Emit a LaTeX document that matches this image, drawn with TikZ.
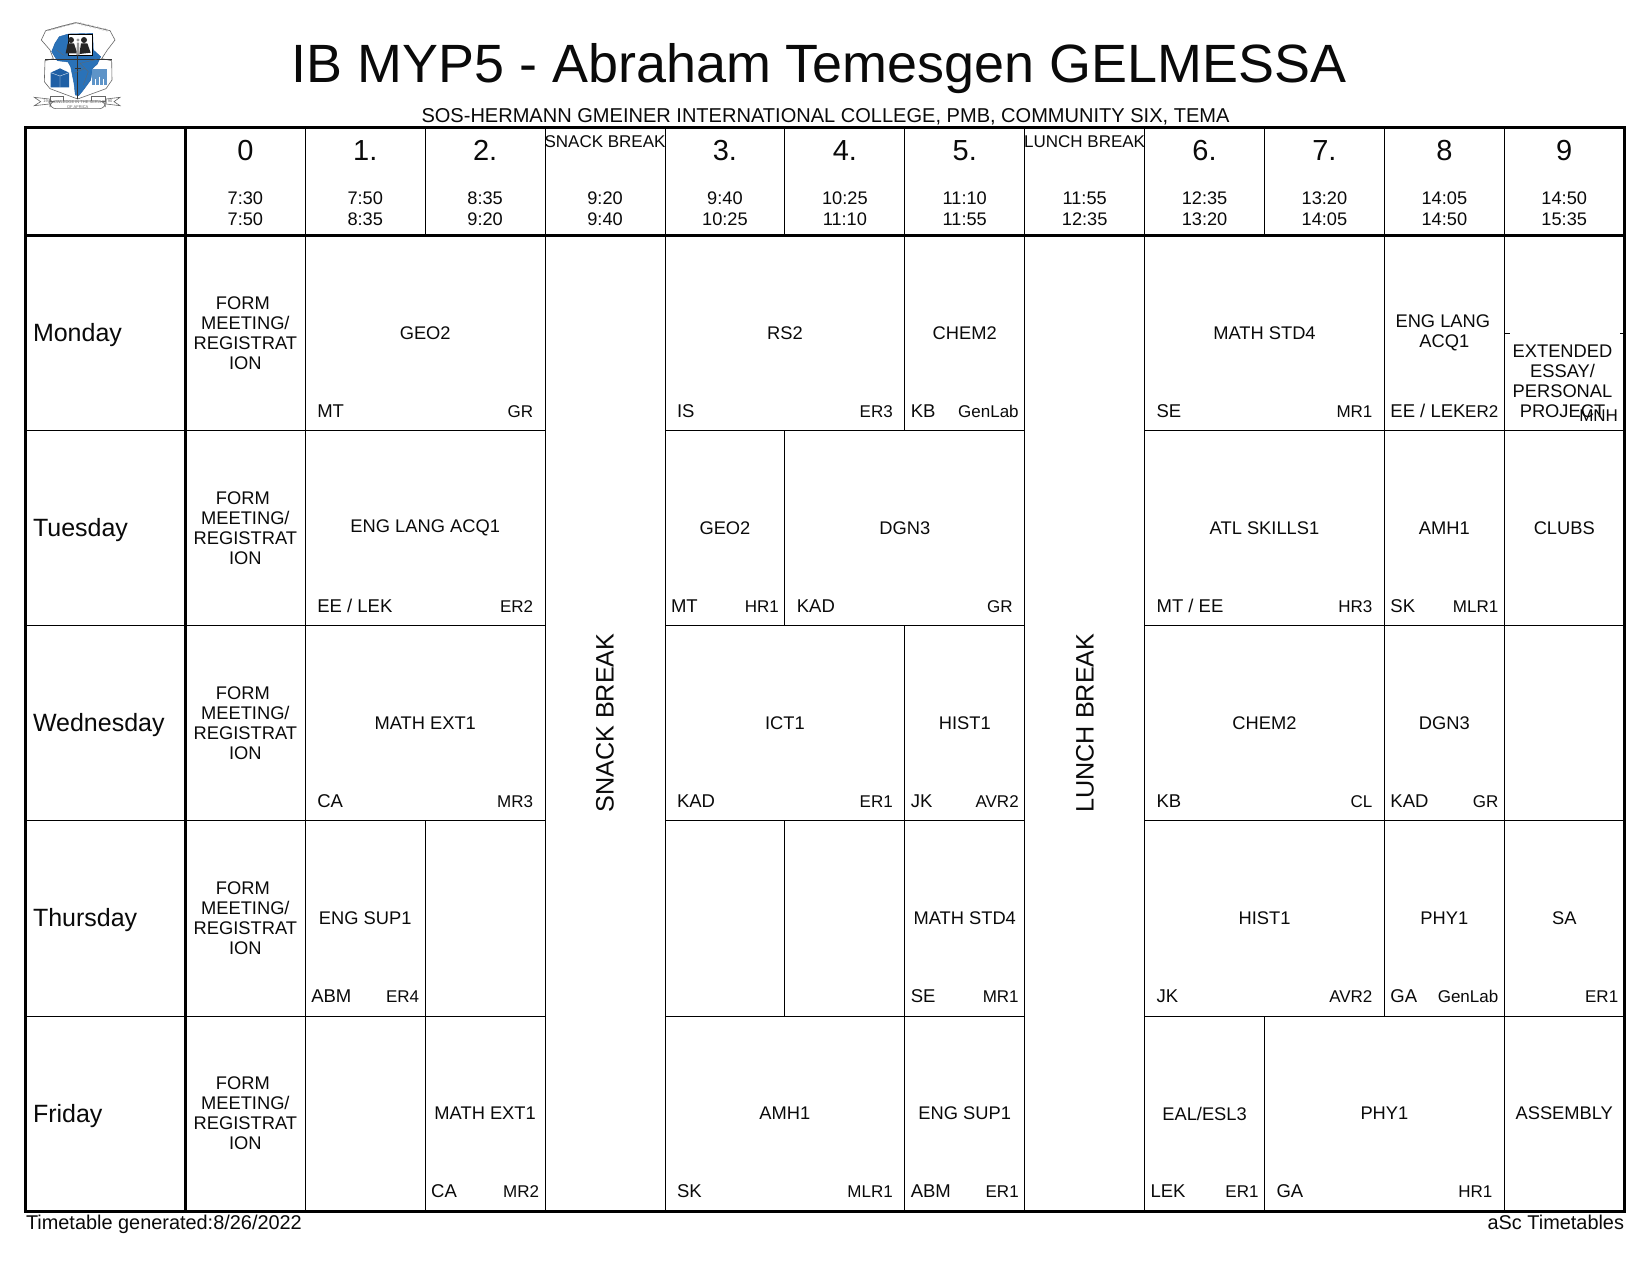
\documentclass[tikz,border=0pt]{standalone}
\usepackage{fontspec}
\setmainfont{Liberation Sans}
\usetikzlibrary{decorations.text}
\definecolor{inkline}{HTML}{000000}
\definecolor{textgrey}{HTML}{0A0A0A}
\definecolor{logoblue}{HTML}{2A72B8}
\definecolor{logolight}{HTML}{5E94C8}
\definecolor{logodark}{HTML}{1F5FA5}
\definecolor{logogrey}{HTML}{666666}
\tikzset{
  gridthin/.style={draw=inkline,line width=0.5pt},
  gridthick/.style={draw=inkline,line width=1.5pt},
  basetext/.style={inner sep=0pt,outer sep=0pt,text=textgrey},
  subjecttext/.style={basetext,align=center,font=\fontsize{9.15}{10}\selectfont},
  teachertext/.style={basetext,anchor=base west,font=\fontsize{9.25}{10}\selectfont},
  roomtext/.style={basetext,anchor=base east,font=\fontsize{8.5}{10}\selectfont},
  periodtext/.style={basetext,anchor=base,font=\fontsize{14.5}{16}\selectfont},
  timetext/.style={basetext,anchor=base,font=\fontsize{9.1}{10}\selectfont},
  breakhead/.style={basetext,anchor=base,font=\fontsize{8.5}{10}\selectfont},
  daytext/.style={basetext,anchor=base west,font=\fontsize{12.5}{14}\selectfont},
  breaktext/.style={basetext,rotate=90,font=\fontsize{12.6}{14}\selectfont},
  foottext/.style={basetext,font=\fontsize{9.95}{11}\selectfont},
  logoline/.style={draw=logogrey,line width=0.3pt},
  logotiny/.style={inner sep=0pt,text=logogrey,align=center,font=\fontsize{2}{2.4}\selectfont},
}
% name, first column, last column, row, subject, teacher, room
\newcommand{\slotcell}[7]{%
  \pgfmathsetmacro\xa{185.4+119.9*#2}%
  \pgfmathsetmacro\xb{185.4+119.9*(#3+1)}%
  \pgfmathsetmacro\ya{235.6+195.1*#4}%
  \pgfmathsetmacro\yb{235.6+195.1*(#4+1)}%
  \pgfmathsetmacro\xc{(\xa+\xb)/2}%
  \pgfmathsetmacro\yc{(\ya+\yb)/2}%
  \pgfmathsetmacro\off{#3>#2 ? 12 : 6}%
  \path[gridthin] (\xa,\ya) rectangle (\xb,\yb);
  \if\relax\detokenize{#5}\relax\else
    \node[subjecttext] (#1) at (\xc,\yc) {#5};
  \fi
  \if\relax\detokenize{#6}\relax\else
    \node[teachertext] (#1t) at (\xa+\off,\yb-13.5) {#6};
  \fi
  \if\relax\detokenize{#7}\relax\else
    \node[roomtext] (#1r) at (\xb-\off,\yb-13.5) {#7};
  \fi
}
% name, column, number, from, to
\newcommand{\headcell}[5]{%
  \pgfmathsetmacro\xa{185.4+119.9*#2}%
  \pgfmathsetmacro\xc{\xa+59.95}%
  \path[gridthin] (\xa,127.5) -- (\xa,235.6);
  \node[periodtext] (#1n) at (\xc,160) {#3};
  \node[timetext] (#1a) at (\xc,204) {#4};
  \node[timetext] (#1b) at (\xc,225) {#5};
}
\newcommand{\breakhd}[5]{%
  \pgfmathsetmacro\xa{185.4+119.9*#2}%
  \pgfmathsetmacro\xc{\xa+59.95}%
  \path[gridthin] (\xa,127.5) -- (\xa,235.6);
  \node[breakhead] (#1n) at (\xc,147) {#3};
  \node[timetext] (#1a) at (\xc,204) {#4};
  \node[timetext] (#1b) at (\xc,225) {#5};
}
\newcommand{\formtext}{FORM\kern2.5pt\\MEETING/\\REGISTRAT\\ION}
\begin{document}
\begin{tikzpicture}[x=0.5pt,y=-0.5pt]
\path[use as bounding box,fill=white] (0,0) rectangle (1651,1275);

% crest
\begin{scope}[x=0.16667pt,y=-0.16667pt]
  \path[logoline,fill=white] (228,68) -- (280,80) -- (330,92) -- (345,120) -- (322,150) -- (305,176) -- (335,182) -- (336,240) -- (318,266) -- (233,297) -- (150,266) -- (133,245) -- (135,182) -- (160,176) -- (150,150) -- (124,120) -- (137,92) -- (180,80) -- cycle;
  \path[fill=logoblue,draw=logodark,line width=0.2pt] (155,155) -- (165,130) -- (178,110) -- (205,102) -- (278,100) -- (280,150) -- (302,170) -- (292,192) -- (278,205) -- (272,240) -- (250,270) -- (236,287) -- (226,285) -- (222,250) -- (212,200) -- (204,186) -- (172,182) -- cycle;
  \path[fill=white,draw=black,line width=0.2pt] (206,104) rectangle (278,165);
  \path[fill=black!85] (213,120) circle (9) (197,160) -- (203,130) -- (222,130) -- (232,160) -- cycle;
  \path[fill=black!85] (252,120) circle (9) (238,162) -- (243,130) -- (262,130) -- (272,158) -- cycle;
  \path[fill=black!40] (234,120) circle (5) (229,165) -- (231,128) -- (237,128) -- (239,165) -- cycle;
  \path[draw=black!80,line width=0.3pt] (135,178) -- (335,178) (233,165) -- (233,297) (225,205) -- (242,205);
  \path[draw=black!60,line width=0.15pt] (170,150) -- (190,165) -- (205,165) (240,190) -- (265,215) -- (250,255) (222,220) -- (255,205) (290,178) -- (240,190);
  \path[fill=logodark] (152,218) -- (180,205) -- (207,218) -- (207,262) -- (152,262) -- cycle;
  \path[draw=white,line width=0.15pt] (152,218) -- (180,228) -- (207,218) (180,228) -- (180,262);
  \path[fill=logolight] (275,208) rectangle (322,256);
  \path[draw=white,line width=0.2pt] (298,230) -- (298,256) (285,238) -- (285,256) (310,238) -- (310,256);
  \path[logoline,fill=white] (103,292) -- (148,297) -- (148,312) -- (103,317) -- (122,305) -- cycle;
  \path[logoline,fill=white] (360,292) -- (318,297) -- (318,312) -- (360,317) -- (342,305) -- cycle;
  \path[logoline,fill=white] (150,290) rectangle (190,303) (275,290) rectangle (316,303);
  \path[logoline,fill=white,rounded corners=3pt] (150,303) rectangle (316,326);
  \node[logotiny] (crestmotto) at (233,315) {KNOWLEDGE IN THE SERVICE\\OF AFRICA};
  \node[logotiny] (crestyeara) at (137,304) {19};
  \node[logotiny] (crestyearb) at (330,304) {90};
  \path[postaction={decorate},decoration={text along path,text align=center,text={|\fontsize{1.2}{1.4}\selectfont\color{logogrey}|SOS-HERMANN GMEINER INTERNATIONAL COLLEGE}}] (135,97) -- (228,72) -- (332,97);
\end{scope}

% titles
\node[basetext,font=\fontsize{26.95}{30}\selectfont] (title) at (819,68.5) {IB MYP5 - Abraham Temesgen GELMESSA};
\node[basetext,anchor=base,font=\fontsize{10.02}{12}\selectfont] (subtitle) at (825.5,122) {SOS-HERMANN GMEINER INTERNATIONAL COLLEGE, PMB, COMMUNITY SIX, TEMA};

% header
\headcell{h0}{0}{0}{7:30}{7:50}
\headcell{h1}{1}{1.}{7:50}{8:35}
\headcell{h2}{2}{2.}{8:35}{9:20}
\breakhd{h3}{3}{SNACK BREAK}{9:20}{9:40}
\headcell{h4}{4}{3.}{9:40}{10:25}
\headcell{h5}{5}{4.}{10:25}{11:10}
\headcell{h6}{6}{5.}{11:10}{11:55}
\breakhd{h7}{7}{LUNCH BREAK}{11:55}{12:35}
\headcell{h8}{8}{6.}{12:35}{13:20}
\headcell{h9}{9}{7.}{13:20}{14:05}
\headcell{h10}{10}{8}{14:05}{14:50}
\headcell{h11}{11}{9}{14:50}{15:35}

% Monday
\slotcell{ma}{0}{0}{0}{\formtext}{}{}
\slotcell{mb}{1}{2}{0}{GEO2}{MT}{GR}
\slotcell{mc}{4}{5}{0}{RS2}{IS}{ER3}
\slotcell{md}{6}{6}{0}{CHEM2}{KB}{GenLab}
\slotcell{me}{8}{9}{0}{MATH STD4}{SE}{MR1}
\slotcell{mf}{10}{10}{0}{ENG LANG\kern1.5pt\\ACQ1}{EE / LEK}{ER2}
\slotcell{mg}{11}{11}{0}{}{}{}
\coordinate (mgl) at (1504.3,333);
\coordinate (mgr) at (1624,333);
\draw[gridthin] (mgl) -- ++(6,0);
\draw[gridthin] (mgr) -- ++(-4,0);
\node[subjecttext] (mgs) at (1562.5,381.5) {EXTENDED\\ESSAY/\\PERSONAL\\PROJECT};
\node[roomtext] (mgm) at (1618,421.5) {MNH};

% Tuesday
\slotcell{ta}{0}{0}{1}{\formtext}{}{}
\slotcell{tb}{1}{2}{1}{ENG LANG ACQ1}{EE / LEK}{ER2}
\slotcell{tc}{4}{4}{1}{GEO2}{MT}{HR1}
\slotcell{td}{5}{6}{1}{DGN3}{KAD}{GR}
\slotcell{te}{8}{9}{1}{ATL SKILLS1}{MT / EE}{HR3}
\slotcell{tf}{10}{10}{1}{AMH1}{SK}{MLR1}
\slotcell{tg}{11}{11}{1}{CLUBS}{}{}

% Wednesday
\slotcell{wa}{0}{0}{2}{\formtext}{}{}
\slotcell{wb}{1}{2}{2}{MATH EXT1}{CA}{MR3}
\slotcell{wc}{4}{5}{2}{ICT1}{KAD}{ER1}
\slotcell{wd}{6}{6}{2}{HIST1}{JK}{AVR2}
\slotcell{we}{8}{9}{2}{CHEM2}{KB}{CL}
\slotcell{wf}{10}{10}{2}{DGN3}{KAD}{GR}
\slotcell{wg}{11}{11}{2}{}{}{}

% Thursday
\slotcell{ha}{0}{0}{3}{\formtext}{}{}
\slotcell{hb}{1}{1}{3}{ENG SUP1}{ABM}{ER4}
\slotcell{hc}{2}{2}{3}{}{}{}
\slotcell{hd}{4}{4}{3}{}{}{}
\slotcell{he}{5}{5}{3}{}{}{}
\slotcell{hf}{6}{6}{3}{MATH STD4}{SE}{MR1}
\slotcell{hg}{8}{9}{3}{HIST1}{JK}{AVR2}
\slotcell{hh}{10}{10}{3}{PHY1}{GA}{GenLab}
\slotcell{hi}{11}{11}{3}{SA}{}{ER1}

% Friday
\slotcell{fa}{0}{0}{4}{\formtext}{}{}
\slotcell{fb}{1}{1}{4}{}{}{}
\slotcell{fc}{2}{2}{4}{MATH EXT1}{CA}{MR2}
\slotcell{fd}{4}{5}{4}{AMH1}{SK}{MLR1}
\slotcell{fe}{6}{6}{4}{ENG SUP1}{ABM}{ER1}
\slotcell{ff}{8}{8}{4}{EAL/ESL3}{LEK}{ER1}
\slotcell{fg}{9}{10}{4}{PHY1}{GA}{HR1}
\slotcell{fh}{11}{11}{4}{ASSEMBLY}{}{}

% breaks
\draw[gridthin] (545.1,235.6) rectangle (665,1211);
\node[breaktext] (snack) at (605,723) {SNACK BREAK};
\draw[gridthin] (1024.7,235.6) rectangle (1144.6,1211);
\node[breaktext] (lunch) at (1085,723) {LUNCH BREAK};

% days
\draw[gridthin] (26,430.7) -- (185,430.7) (26,625.8) -- (185,625.8) (26,820.9) -- (185,820.9) (26,1016) -- (185,1016);
\node[daytext] (mon) at (33,341) {Monday};
\node[daytext] (tue) at (33,536) {Tuesday};
\node[daytext] (wed) at (33,731) {Wednesday};
\node[daytext] (thu) at (33,926) {Thursday};
\node[daytext] (fri) at (33,1122) {Friday};

% thick frame
\draw[gridthick] (25.5,127.5) rectangle (1624,1211);
\draw[gridthick] (185.4,127.5) -- (185.4,1211);
\draw[gridthick] (25.5,235.6) -- (1624,235.6);

% footer
\node[foottext,anchor=base west] (gen) at (26,1229) {Timetable generated:8/26/2022};
\node[foottext,anchor=base east] (asc) at (1624,1229) {aSc Timetables};
\end{tikzpicture}
\end{document}
